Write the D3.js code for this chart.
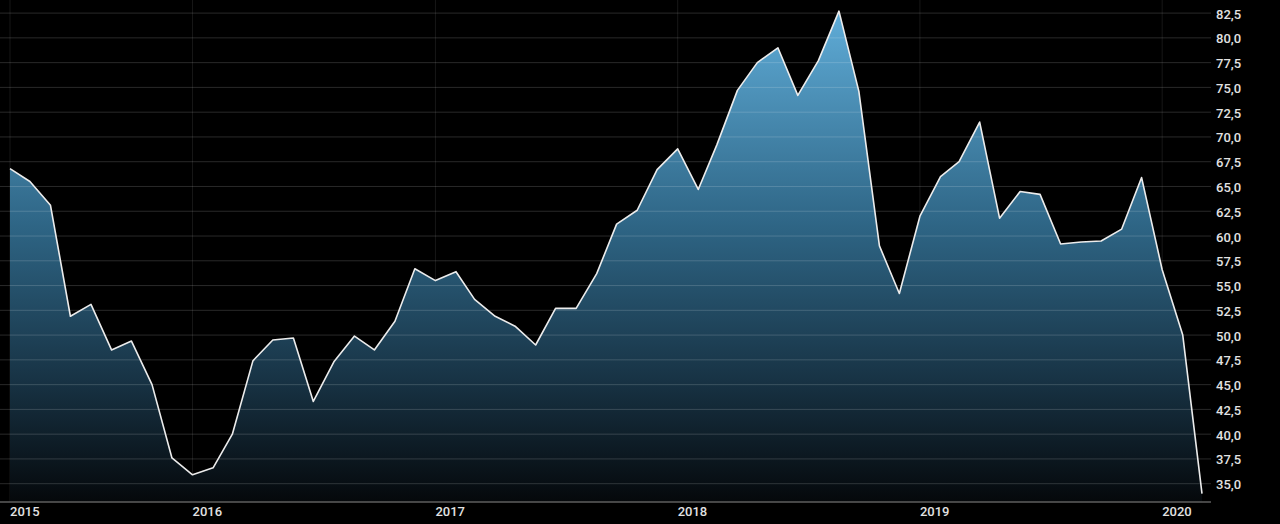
<!DOCTYPE html>
<html>
<head>
<meta charset="utf-8">
<script src="https://cdn.jsdelivr.net/npm/d3@7"></script>
<style>
  html, body { margin: 0; padding: 0; background: #000; }
  svg { display: block; }
  text { font-family: Roboto, "Noto Sans", sans-serif; }
</style>
</head>
<body>
<svg id="chart" width="1280" height="524"></svg>
<script>
// ---- data ----
const months = [
  "2015-04","2015-05","2015-06","2015-07","2015-08","2015-09","2015-10","2015-11","2015-12",
  "2016-01","2016-02","2016-03","2016-04","2016-05","2016-06","2016-07","2016-08","2016-09","2016-10","2016-11","2016-12",
  "2017-01","2017-02","2017-03","2017-04","2017-05","2017-06","2017-07","2017-08","2017-09","2017-10","2017-11","2017-12",
  "2018-01","2018-02","2018-03","2018-04","2018-05","2018-06","2018-07","2018-08","2018-09","2018-10","2018-11","2018-12",
  "2019-01","2019-02","2019-03","2019-04","2019-05","2019-06","2019-07","2019-08","2019-09","2019-10","2019-11","2019-12",
  "2020-01","2020-02","2020-03"
];
const values = [
  66.8, 65.5, 63.1, 51.9, 53.1, 48.5, 49.4, 45.0, 37.6,
  35.9, 36.6, 40.0, 47.4, 49.5, 49.7, 43.3, 47.3, 49.9, 48.5, 51.4, 56.7,
  55.5, 56.4, 53.6, 51.9, 50.9, 49.0, 52.7, 52.7, 56.2, 61.2, 62.6, 66.7,
  68.8, 64.7, 69.2, 74.7, 77.5, 79.0, 74.2, 77.7, 82.7, 74.6, 59.0, 54.2,
  62.0, 66.0, 67.5, 71.5, 61.8, 64.5, 64.2, 59.2, 59.4, 59.5, 60.7, 65.9,
  56.6, 50.0, 34.0
];
const xTickDates = ["2015-04","2016-01","2017-01","2018-01","2019-01","2020-01"];
const xTickLabels = ["2015","2016","2017","2018","2019","2020"];
const yTicks = [35, 37.5, 40, 42.5, 45, 47.5, 50, 52.5, 55, 57.5, 60, 62.5, 65, 67.5, 70, 72.5, 75, 77.5, 80, 82.5];

// ---- setup ----
const parse = d3.timeParse("%Y-%m");
const data = months.map((m, i) => ({ date: parse(m), value: values[i] }));

const svg = d3.select("#chart");
const plotRight = 1211;
const baseY = 502;

const x = d3.scaleTime()
  .domain([parse(months[0]), parse(months[months.length - 1])])
  .range([10, 1202]);
const y = d3.scaleLinear()
  .domain([35, 82.5])
  .range([483.7, 13.1]);

const defs = svg.append("defs");
const grad = defs.append("linearGradient")
  .attr("id", "fillGrad")
  .attr("gradientUnits", "userSpaceOnUse")
  .attr("x1", 0).attr("x2", 0)
  .attr("y1", 0).attr("y2", baseY);
grad.append("stop").attr("offset", 0).attr("stop-color", "#62b0dc");
grad.append("stop").attr("offset", 0.45).attr("stop-color", "#2e6585");
grad.append("stop").attr("offset", 0.75).attr("stop-color", "#183446");
grad.append("stop").attr("offset", 1).attr("stop-color", "#05080b");

// vertical grid lines
svg.append("g")
  .selectAll("line")
  .data(xTickDates)
  .join("line")
  .attr("x1", d => x(parse(d))).attr("x2", d => x(parse(d)))
  .attr("y1", 0).attr("y2", baseY)
  .attr("stroke", "rgba(255,255,255,0.09)")
  .attr("stroke-width", 1);

// area
const area = d3.area()
  .x(d => x(d.date))
  .y0(baseY)
  .y1(d => y(d.value));
svg.append("path")
  .datum(data)
  .attr("d", area)
  .attr("fill", "url(#fillGrad)");

// horizontal grid lines (drawn over the area)
svg.append("g")
  .selectAll("line")
  .data(yTicks)
  .join("line")
  .attr("x1", 0).attr("x2", plotRight)
  .attr("y1", d => y(d)).attr("y2", d => y(d))
  .attr("stroke", "rgba(255,255,255,0.16)")
  .attr("stroke-width", 1);

// line
const line = d3.line()
  .x(d => x(d.date))
  .y(d => y(d.value));
svg.append("path")
  .datum(data)
  .attr("d", line)
  .attr("fill", "none")
  .attr("stroke", "#ececec")
  .attr("stroke-width", 1.6)
  .attr("stroke-linejoin", "round");

// baseline
svg.append("line")
  .attr("x1", 0).attr("x2", plotRight)
  .attr("y1", baseY).attr("y2", baseY)
  .attr("stroke", "#5e5e5e")
  .attr("stroke-width", 1.5);

// y labels
const fmt = d => d.toFixed(1).replace(".", ",");
svg.append("g")
  .selectAll("text")
  .data(yTicks)
  .join("text")
  .attr("x", 1216)
  .attr("y", d => y(d) + 1)
  .attr("dy", "0.35em")
  .attr("fill", "#e2e2e2")
  .attr("font-size", 13)
  .attr("font-weight", 500)
  .text(fmt);

// x labels
svg.append("g")
  .selectAll("text")
  .data(xTickDates)
  .join("text")
  .attr("x", d => x(parse(d)))
  .attr("y", 516)
  .attr("fill", "#e2e2e2")
  .attr("font-size", 13)
  .attr("font-weight", 500)
  .text((d, i) => xTickLabels[i]);
</script>
</body>
</html>
